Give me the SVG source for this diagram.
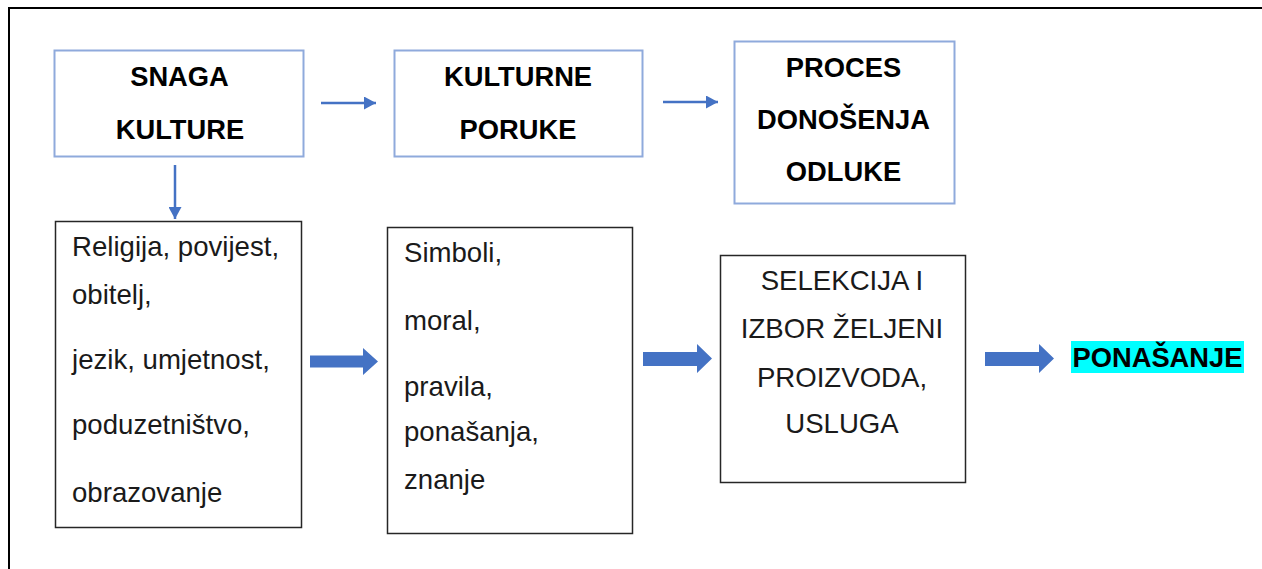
<svg xmlns="http://www.w3.org/2000/svg" width="1262" height="569" viewBox="0 0 1262 569">
  <style>
    .frame { fill: none; stroke: #000; stroke-width: 2; }
    .bbox { fill: #fff; stroke: #8faadc; stroke-width: 2; }
    .kbox { fill: #fff; stroke: #262626; stroke-width: 1.5; }
    .bt { font-family: "Liberation Sans", Arial, sans-serif; font-weight: bold; font-size: 27.3px; fill: #000; text-anchor: middle; }
    .rt { font-family: "Liberation Sans", Arial, sans-serif; font-size: 27.6px; fill: #1a1a1a; }
    .ct { text-anchor: middle; }
    .thin { stroke: #4472c4; stroke-width: 2.5; fill: none; }
    .block { fill: #4472c4; }
  </style>
  <defs>
    <marker id="ah" viewBox="0 0 12 13" refX="12" refY="6.5" markerWidth="12" markerHeight="13" markerUnits="userSpaceOnUse" orient="auto">
      <path d="M0,0 L12,6.5 L0,13 Z" fill="#4472c4"/>
    </marker>
  </defs>
  <rect x="0" y="0" width="1262" height="569" fill="#fff"/>
  <path class="frame" d="M9,569 V8 H1262"/>

  <g id="node-snaga">
    <rect class="bbox" x="54.5" y="50.5" width="249" height="106"/>
    <text class="bt" x="179.5" y="86">SNAGA</text>
    <text class="bt" x="180" y="139">KULTURE</text>
  </g>
  <g id="node-poruke">
    <rect class="bbox" x="394.5" y="50.5" width="248" height="106"/>
    <text class="bt" x="518" y="86">KULTURNE</text>
    <text class="bt" x="518" y="139">PORUKE</text>
  </g>
  <g id="node-proces">
    <rect class="bbox" x="734.5" y="41.5" width="220" height="162"/>
    <text class="bt" x="843.5" y="77">PROCES</text>
    <text class="bt" x="843.5" y="129">DONOŠENJA</text>
    <text class="bt" x="843.5" y="181">ODLUKE</text>
  </g>
  <g id="node-religija">
    <rect class="kbox" x="55.5" y="221.5" width="246" height="306"/>
    <text class="rt" x="72" y="256">Religija, povijest,</text>
    <text class="rt" x="72" y="304">obitelj,</text>
    <text class="rt" x="72" y="369">jezik, umjetnost,</text>
    <text class="rt" x="72" y="434">poduzetništvo,</text>
    <text class="rt" x="72" y="502">obrazovanje</text>
  </g>
  <g id="node-simboli">
    <rect class="kbox" x="387.5" y="227.5" width="245" height="306"/>
    <text class="rt" x="404" y="262">Simboli,</text>
    <text class="rt" x="404" y="330">moral,</text>
    <text class="rt" x="404" y="396">pravila,</text>
    <text class="rt" x="404" y="441">ponašanja,</text>
    <text class="rt" x="404" y="489">znanje</text>
  </g>
  <g id="node-selekcija">
    <rect class="kbox" x="720.5" y="255.5" width="245" height="227"/>
    <text class="rt ct" x="842" y="290">SELEKCIJA I</text>
    <text class="rt ct" x="842" y="338">IZBOR ŽELJENI</text>
    <text class="rt ct" x="842" y="387">PROIZVODA,</text>
    <text class="rt ct" x="842" y="433">USLUGA</text>
  </g>
  <g id="node-ponasanje">
    <rect x="1071" y="341" width="173" height="32" fill="#00ffff"/>
    <text class="bt" x="1157.5" y="367">PONAŠANJE</text>
  </g>

  <g id="connectors">
    <line class="thin" x1="321" y1="103" x2="376" y2="103" marker-end="url(#ah)"/>
    <line class="thin" x1="663" y1="102" x2="718" y2="102" marker-end="url(#ah)"/>
    <line class="thin" x1="175" y1="165" x2="175" y2="219" marker-end="url(#ah)"/>
    <path class="block" d="M310,355.5 H363 V348 L378,361.5 L363,375 V367.5 H310 Z"/>
    <path class="block" d="M643,352 H697 V344 L712,358.5 L697,373 V366 H643 Z"/>
    <path class="block" d="M985,352 H1039 V344 L1054,358.5 L1039,373 V366 H985 Z"/>
  </g>
</svg>
